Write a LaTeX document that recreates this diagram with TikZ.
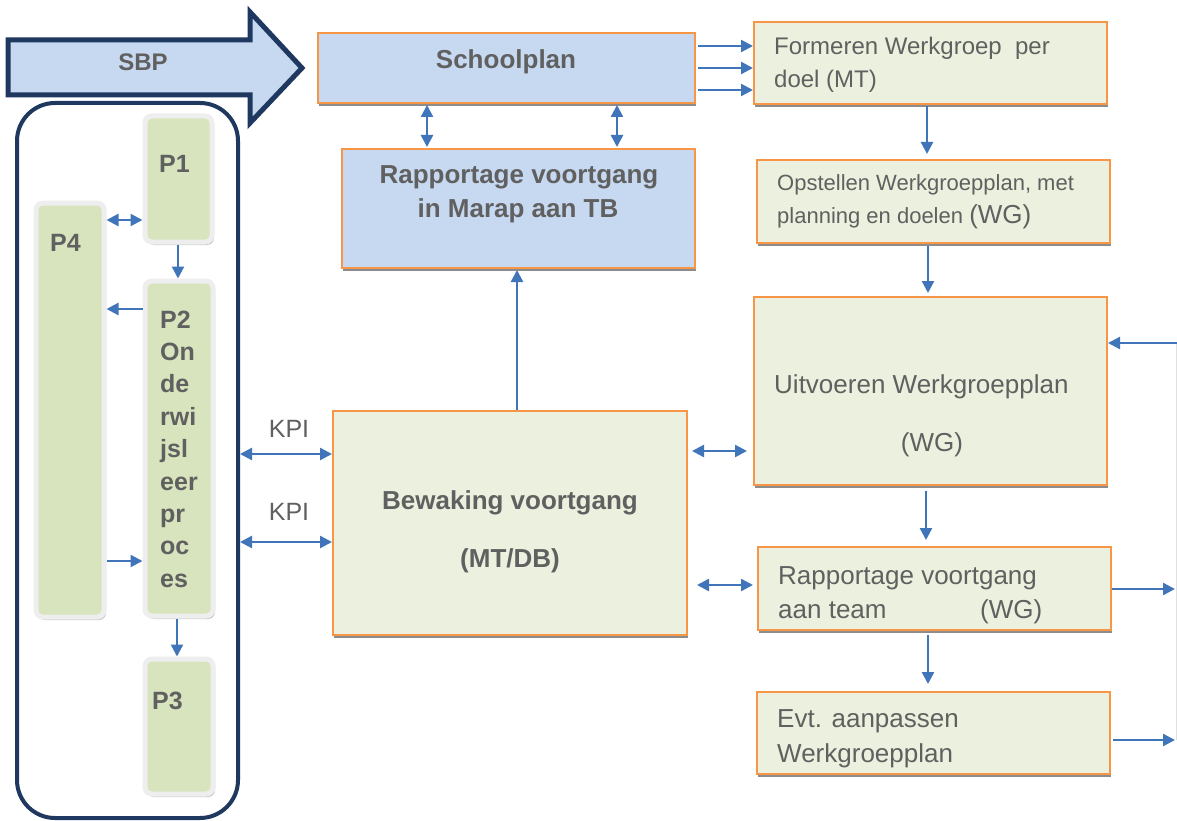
\documentclass[tikz,border=0pt]{standalone}
\usepackage{fontspec}
\setmainfont{Liberation Sans}
\usetikzlibrary{arrows.meta,shadows}
\definecolor{navy}{RGB}{31,56,96}
\definecolor{sbpblue}{RGB}{198,217,241}
\definecolor{boxgreen}{RGB}{235,241,222}
\definecolor{pgreen}{RGB}{215,228,189}
\definecolor{boxorange}{RGB}{247,150,70}
\definecolor{arrowblue}{RGB}{65,117,186}
\definecolor{txtgray}{RGB}{96,96,96}
\definecolor{rimgray}{RGB}{238,238,238}
\tikzset{
  obox/.style={draw=boxorange, line width=2pt, inner sep=0pt, rectangle,
    drop shadow={shadow xshift=1pt, shadow yshift=-3pt, fill=black!45, opacity=1}},
  bluebox/.style={obox, fill=sbpblue},
  greenbox/.style={obox, fill=boxgreen},
  pbox/.style={draw=rimgray, line width=5pt, fill=pgreen, rounded corners=7pt, inner sep=0pt,
    drop shadow={shadow xshift=2pt, shadow yshift=-3pt, fill=black!22, opacity=1}},
  panelbox/.style={draw=navy, line width=4pt, rounded corners=38pt, inner sep=0pt},
  sbpshape/.style={draw=navy, fill=sbpblue, line width=5pt, line join=miter},
  arr/.style={draw=arrowblue, line width=2.4pt, -{Triangle[length=12pt,width=12pt]}},
  darr/.style={draw=arrowblue, line width=2.4pt, {Triangle[length=12pt,width=12pt]}-{Triangle[length=12pt,width=12pt]}},
  faint/.style={draw=black!12, line width=1pt},
  bt/.style={font=\fontsize{26}{31}\selectfont\bfseries, text=txtgray, inner sep=0pt},
  pt/.style={font=\fontsize{25}{30}\selectfont\bfseries, text=txtgray, inner sep=0pt},
  rt/.style={font=\fontsize{26}{31}\selectfont, text=txtgray, inner sep=0pt},
  rts/.style={font=\fontsize{24}{29}\selectfont, text=txtgray, inner sep=0pt},
  rtx/.style={font=\fontsize{22}{27}\selectfont, text=txtgray, inner sep=0pt},
}
\begin{document}
\begin{tikzpicture}[x=1pt,y=-1pt]
\path[use as bounding box, fill=white] (0,0) rectangle (1177,821);

% SBP arrow shape
\draw[sbpshape] (8,40) -- (250,40) -- (250,12) -- (302,68) -- (250,123) -- (250,95) -- (8,95) -- cycle;
\node[bt, font=\fontsize{24}{29}\selectfont\bfseries] (sbp) at (143,62) {SBP};

% left panel
\node[panelbox, minimum width=221pt, minimum height=715pt] (panel) at (127.5,460.5) {};
\node[pbox, minimum width=67pt, minimum height=126pt] (p1) at (178.5,179) {};
\node[pbox, minimum width=68pt, minimum height=414pt] (p4) at (70,410) {};
\node[pbox, minimum width=68pt, minimum height=335pt] (p2) at (179,448.5) {};
\node[pbox, minimum width=68pt, minimum height=135pt] (p3) at (179,726.5) {};
\node[pt, anchor=base west] (p1t) at (159,173) {P1};
\node[pt, anchor=base west] (p4t) at (50,251) {P4};
\node[pt, anchor=base west] (p3t) at (152,709) {P3};
\foreach \t [count=\i from 0] in {P2,On,de,rwi,jsl,eer,pr,oc,es}
  \node[pt, anchor=base west] (p2t\i) at (160,{328+32.4*\i}) {\t};

% middle boxes
\node[bluebox, minimum width=377pt, minimum height=70pt] (school) at (506.5,68) {};
\node[bt, anchor=base] (schoolt) at (506,69) {Schoolplan};
\node[bluebox, minimum width=353pt, minimum height=119pt] (tb) at (518.5,208.5) {};
\node[bt, anchor=base] (tbt1) at (519,184) {Rapportage voortgang};
\node[bt, anchor=base] (tbt2) at (518,218) {in Marap aan TB};
\node[greenbox, minimum width=354pt, minimum height=224pt] (bew) at (510,523) {};
\node[bt, anchor=base] (bewt1) at (510,509) {Bewaking voortgang};
\node[bt, anchor=base] (bewt2) at (510,567) {(MT/DB)};

% right column
\node[greenbox, minimum width=353pt, minimum height=82pt] (form) at (930.5,63) {};
\node[rts, anchor=base west] (formt1) at (774,55) {Formeren Werkgroep~ per};
\node[rts, anchor=base west] (formt2) at (774,88) {doel (MT)};
\node[greenbox, minimum width=353pt, minimum height=83pt] (opst) at (933.5,201.5) {};
\node[rtx, anchor=base west] (opstt1) at (777,190) {Opstellen Werkgroepplan, met};
\node[rtx, anchor=base west] (opstt2) at (777,223) {planning en doelen \fontsize{26}{31}\selectfont(WG)};
\node[greenbox, minimum width=353pt, minimum height=188pt] (uitv) at (930.5,391) {};
\node[rt, anchor=base west] (uitvt1) at (774,393) {Uitvoeren Werkgroepplan};
\node[rt, anchor=base] (uitvt2) at (932,451) {(WG)};
\node[greenbox, minimum width=353pt, minimum height=83pt] (rapp) at (934.5,588.5) {};
\node[rt, anchor=base west] (rappt1) at (778,584) {Rapportage voortgang};
\node[rt, anchor=base west] (rappt2) at (778,618) {aan team};
\node[rt, anchor=base west] (rappt3) at (980,618) {(WG)};
\node[greenbox, minimum width=353pt, minimum height=82pt] (evt) at (933.5,733) {};
\node[rt, anchor=base west] (evtt1) at (777,727) {Evt. aanpassen};
\node[rt, anchor=base west] (evtt2) at (777,762) {Werkgroepplan};

% KPI labels
\node[rt, font=\fontsize{25}{30}\selectfont, anchor=base] (kpi1) at (289,437) {KPI};
\node[rt, font=\fontsize{25}{30}\selectfont, anchor=base] (kpi2) at (289,520) {KPI};

% loop coordinates on the right edge
\coordinate (loopA) at (1177,343);
\coordinate (loopB) at (1175,589);
\coordinate (loopC) at (1175,740);
\coordinate (lineTop) at (1176.5,343);
\coordinate (lineBot) at (1176.5,740);
\draw[faint] (lineTop) -- (lineBot);

% connectors, left panel
\draw[darr] (p4.east |- 0,220) -- (p1.west |- 0,220);
\draw[arr] (p1.south -| 178,0) -- (p2.north -| 178,0);
\draw[arr] (p2.west |- 0,309) -- (p4.east |- 0,309);
\draw[arr] (p4.east |- 0,561) -- (p2.west |- 0,561);
\draw[arr] (p2.south -| 177,0) -- (p3.north -| 177,0);

% connectors, middle
\draw[darr, shorten <=1pt, shorten >=1pt] (school.south -| 427,0) -- (tb.north -| 427,0);
\draw[darr, shorten <=1pt, shorten >=1pt] (school.south -| 617,0) -- (tb.north -| 617,0);
\draw[arr, shorten >=1pt] (bew.north -| 517,0) -- (tb.south -| 517,0);
\draw[darr] (panel.east |- 0,454) -- (bew.west |- 0,454);
\draw[darr] (panel.east |- 0,542) -- (bew.west |- 0,542);

% connectors, right
\draw[arr, shorten <=2pt] (school.east |- 0,46) -- (form.west |- 0,46);
\draw[arr, shorten <=2pt] (school.east |- 0,68) -- (form.west |- 0,68);
\draw[arr, shorten <=2pt] (school.east |- 0,90) -- (form.west |- 0,90);
\draw[arr, shorten <=1pt, shorten >=5pt] (form.south -| 927,0) -- (opst.north -| 927,0);
\draw[arr, shorten <=2pt, shorten >=3pt] (opst.south -| 928,0) -- (uitv.north -| 928,0);
\draw[arr, shorten <=5pt, shorten >=6pt] (uitv.south -| 926,0) -- (rapp.north -| 926,0);
\draw[arr, shorten <=4pt, shorten >=7pt] (rapp.south -| 928,0) -- (evt.north -| 928,0);
\draw[darr, shorten <=4pt, shorten >=6pt] (bew.east |- 0,451) -- (uitv.west |- 0,451);
\draw[darr, shorten <=9pt, shorten >=4pt] (bew.east |- 0,585) -- (rapp.west |- 0,585);
\draw[arr] (rapp.east |- 0,589) -- (loopB);
\draw[arr, shorten <=2pt] (evt.east |- 0,740) -- (loopC);
\draw[arr] (loopA) -- (uitv.east |- 0,343);
\end{tikzpicture}
\end{document}
